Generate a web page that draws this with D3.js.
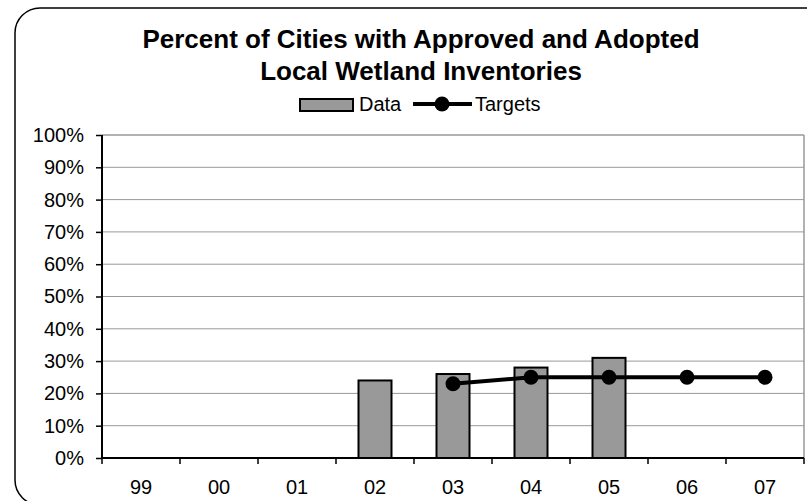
<!DOCTYPE html>
<html>
<head>
<meta charset="utf-8">
<script src="https://cdn.jsdelivr.net/npm/d3@7"></script>
<style>
  html, body { margin: 0; padding: 0; background: #fff; }
  svg { display: block; font-family: "Liberation Sans", Arial, sans-serif; }
</style>
</head>
<body>
<svg id="chart" width="807" height="501"></svg>
<script>
const categories = ["99", "00", "01", "02", "03", "04", "05", "06", "07"];
const dataValues = [null, null, null, 0.24, 0.26, 0.28, 0.31, null, null];
const targetValues = [null, null, null, null, 0.23, 0.25, 0.25, 0.25, 0.25];
const yTicks = [0, 0.1, 0.2, 0.3, 0.4, 0.5, 0.6, 0.7, 0.8, 0.9, 1.0];
const titleLines = ["Percent of Cities with Approved and Adopted", "Local Wetland Inventories"];
const legendLabels = ["Data", "Targets"];

const svg = d3.select("#chart");

// outer rounded frame
svg.append("rect")
  .attr("x", 15).attr("y", 8).attr("width", 830).attr("height", 497)
  .attr("rx", 25).attr("ry", 25)
  .attr("fill", "#fff").attr("stroke", "#000").attr("stroke-width", 1.5);

const plot = { left: 102, right: 804, top: 135, bottom: 458 };

const x = d3.scaleBand().domain(categories).range([plot.left, plot.right]).padding(0);
const y = d3.scaleLinear().domain([0, 1]).range([plot.bottom, plot.top]);

// gridlines
svg.append("g").selectAll("line").data(yTicks.filter(d => d > 0)).join("line")
  .attr("x1", plot.left).attr("x2", plot.right)
  .attr("y1", d => y(d)).attr("y2", d => y(d))
  .attr("stroke", "#999").attr("stroke-width", d => d === 1 ? 1.5 : 1);

// right plot border
svg.append("line")
  .attr("x1", plot.right).attr("x2", plot.right)
  .attr("y1", plot.top).attr("y2", plot.bottom)
  .attr("stroke", "#999").attr("stroke-width", 1.5);

// bars
const barW = 33;
svg.append("g").selectAll("rect")
  .data(categories.map((c, i) => ({ c, v: dataValues[i] })).filter(d => d.v != null))
  .join("rect")
  .attr("x", d => x(d.c) + x.bandwidth() / 2 - barW / 2)
  .attr("y", d => y(d.v))
  .attr("width", barW)
  .attr("height", d => y(0) - y(d.v))
  .attr("fill", "#999999").attr("stroke", "#000").attr("stroke-width", 2);

// y axis
const yAxis = d3.axisLeft(y).tickValues(yTicks).tickFormat(d3.format(".0%")).tickSize(6).tickPadding(12);
const gy = svg.append("g").attr("transform", `translate(${plot.left},0)`).call(yAxis);
gy.select(".domain").attr("stroke", "#000").attr("stroke-width", 2).attr("d", `M0,${plot.top}V${plot.bottom}`);
gy.selectAll(".tick line").attr("stroke", "#000").attr("stroke-width", 1.5);
gy.selectAll(".tick text").attr("font-size", 20).attr("fill", "#000")
  .attr("font-family", "Liberation Sans, Arial, sans-serif");

// x axis (labels)
const xAxis = d3.axisBottom(x).tickSize(0).tickPadding(22);
const gx = svg.append("g").attr("transform", `translate(0,${plot.bottom})`).call(xAxis);
gx.select(".domain").attr("stroke", "#000").attr("stroke-width", 2).attr("d", `M${plot.left},0H${plot.right}`);
gx.selectAll(".tick text").attr("font-size", 20).attr("fill", "#000")
  .attr("font-family", "Liberation Sans, Arial, sans-serif");

// x boundary tick marks
const boundaries = categories.map(c => x(c)).concat([plot.right]);
svg.append("g").selectAll("line").data(boundaries).join("line")
  .attr("x1", d => d).attr("x2", d => d)
  .attr("y1", plot.bottom).attr("y2", plot.bottom + 6)
  .attr("stroke", "#000").attr("stroke-width", 1.5);

// target line
const tPts = categories.map((c, i) => ({ c, v: targetValues[i] })).filter(d => d.v != null);
const line = d3.line().x(d => x(d.c) + x.bandwidth() / 2).y(d => y(d.v));
svg.append("path").datum(tPts).attr("d", line)
  .attr("fill", "none").attr("stroke", "#000").attr("stroke-width", 4);
svg.append("g").selectAll("circle").data(tPts).join("circle")
  .attr("cx", d => x(d.c) + x.bandwidth() / 2).attr("cy", d => y(d.v))
  .attr("r", 7.5).attr("fill", "#000");

// title
svg.append("g").selectAll("text").data(titleLines).join("text")
  .attr("x", 421).attr("y", (d, i) => 48 + i * 32)
  .attr("text-anchor", "middle").attr("font-size", 26).attr("font-weight", "bold")
  .attr("fill", "#000").text(d => d);

// legend
const lg = svg.append("g");
lg.append("rect").attr("x", 300).attr("y", 99).attr("width", 53).attr("height", 12)
  .attr("fill", "#999999").attr("stroke", "#000").attr("stroke-width", 2);
lg.append("text").attr("x", 359).attr("y", 111).attr("font-size", 20).attr("fill", "#000").text(legendLabels[0]);
lg.append("line").attr("x1", 413).attr("x2", 472).attr("y1", 104).attr("y2", 104)
  .attr("stroke", "#000").attr("stroke-width", 4);
lg.append("circle").attr("cx", 442).attr("cy", 104).attr("r", 7.5).attr("fill", "#000");
lg.append("text").attr("x", 475).attr("y", 111).attr("font-size", 20).attr("fill", "#000").text(legendLabels[1]);
</script>
</body>
</html>
